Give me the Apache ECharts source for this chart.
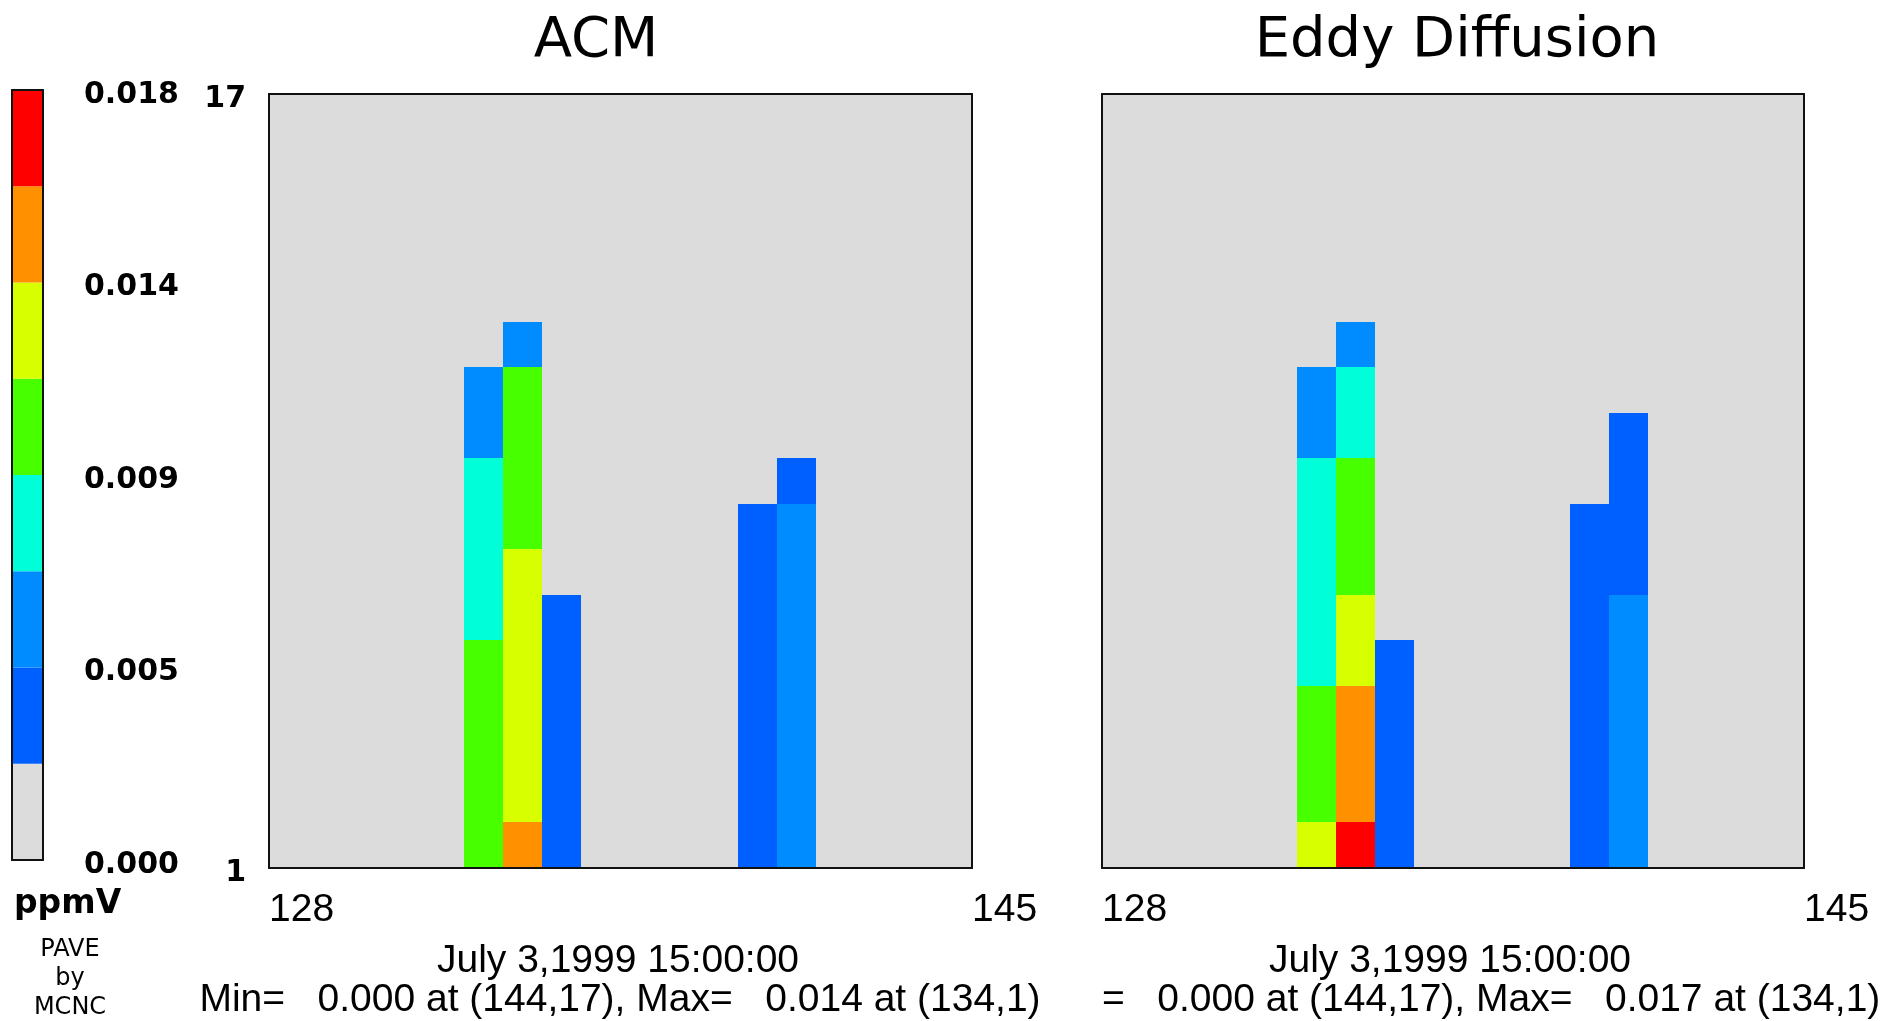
<!DOCTYPE html>
<html><head><meta charset="utf-8">
<script src="https://cdn.jsdelivr.net/npm/echarts@6/dist/echarts.min.js"></script>
<style>html,body{margin:0;padding:0;background:#fff;}#c{width:1881px;height:1021px;}</style>
</head><body><div id="c"></div>
<script>
// ---- data ----
const xCategories = ['128','129','130','131','132','133','134','135','136','137','138','139','140','141','142','143','144','145'];
const yCategories = ['1','2','3','4','5','6','7','8','9','10','11','12','13','14','15','16','17'];
const xEdgeLabels = ['128', '145'];
const yEdgeLabels = ['1', '17'];
const binEdges = [0, 0.00225, 0.0045, 0.00675, 0.009, 0.01125, 0.0135, 0.01575, 0.018];
const binColors = ['#dcdcdc', '#0060ff', '#008cff', '#00ffd8', '#48ff00', '#d8ff00', '#ff9000', '#ff0000'];
const legendTickLabels = ['0.000', '0.005', '0.009', '0.014', '0.018'];
const panelTitles = ['ACM', 'Eddy Diffusion'];
const dateLabel = 'July 3,1999 15:00:00';
const acmStats = 'Min=   0.000 at (144,17), Max=   0.014 at (134,1)';
const eddyStats = '=   0.000 at (144,17), Max=   0.017 at (134,1)';

// [x, y, ppmV] for cells above the lowest bin
const acmCells = [
  [133,1,0.0108],[133,2,0.0105],[133,3,0.0101],[133,4,0.0096],[133,5,0.0092],
  [133,6,0.0088],[133,7,0.0083],[133,8,0.0078],[133,9,0.0071],[133,10,0.0062],[133,11,0.0049],
  [134,1,0.0140],[134,2,0.0133],[134,3,0.0130],[134,4,0.0126],[134,5,0.0122],[134,6,0.0118],[134,7,0.0114],
  [134,8,0.0110],[134,9,0.0104],[134,10,0.0098],[134,11,0.0092],[134,12,0.0058],
  [135,1,0.0043],[135,2,0.0041],[135,3,0.0038],[135,4,0.0034],[135,5,0.0030],[135,6,0.0025],
  [140,1,0.0044],[140,2,0.0043],[140,3,0.0041],[140,4,0.0039],[140,5,0.0036],[140,6,0.0033],[140,7,0.0030],[140,8,0.0026],
  [141,1,0.0060],[141,2,0.0058],[141,3,0.0056],[141,4,0.0054],[141,5,0.0052],[141,6,0.0050],[141,7,0.0048],[141,8,0.0046],[141,9,0.0032]
];
const eddyCells = [
  [133,1,0.0120],[133,2,0.0110],[133,3,0.0102],[133,4,0.0094],
  [133,5,0.0089],[133,6,0.0085],[133,7,0.0080],[133,8,0.0076],[133,9,0.0070],[133,10,0.0062],[133,11,0.0050],
  [134,1,0.0170],[134,2,0.0155],[134,3,0.0147],[134,4,0.0139],[134,5,0.0130],[134,6,0.0119],
  [134,7,0.0110],[134,8,0.0102],[134,9,0.0093],[134,10,0.0086],[134,11,0.0072],[134,12,0.0055],
  [135,1,0.0042],[135,2,0.0039],[135,3,0.0035],[135,4,0.0030],[135,5,0.0025],
  [140,1,0.0044],[140,2,0.0043],[140,3,0.0041],[140,4,0.0039],[140,5,0.0036],[140,6,0.0033],[140,7,0.0030],[140,8,0.0026],
  [141,1,0.0058],[141,2,0.0055],[141,3,0.0052],[141,4,0.0050],[141,5,0.0048],[141,6,0.0046],
  [141,7,0.0042],[141,8,0.0038],[141,9,0.0032],[141,10,0.0026]
];

// ---- chart ----
const chart = echarts.init(document.getElementById('c'), null, {renderer: 'canvas'});
const BORDER = {show: true, onZero: false, lineStyle: {color: '#111', width: 2}};
const NOAX = {axisTick: {show: false}, splitLine: {show: false}};
function toCells(list) {
  return list.map(d => [xCategories.indexOf(String(d[0])), yCategories.indexOf(String(d[1])), d[2]]);
}
const boldLabel = {fontFamily: 'DejaVu Sans', fontWeight: 'bold', fontSize: 30, color: '#000', verticalAlign: 'top', lineHeight: 10};
const plainLabel = {fontFamily: 'Liberation Sans', fontSize: 39, color: '#000'};

const grids = [
  {left: 12, top: 90, width: 31, height: 770},
  {left: 269, top: 94, width: 703, height: 774, show: true, backgroundColor: binColors[0], borderWidth: 0},
  {left: 1102, top: 94, width: 702, height: 774, show: true, backgroundColor: binColors[0], borderWidth: 0}
].map(g => Object.assign({containLabel: false, outerBoundsMode: 'none'}, g));

const xAxis = [
  Object.assign({type: 'category', gridIndex: 0, data: ['ppmV'], position: 'bottom', axisLine: BORDER, axisLabel: {show: false}, z: 10}, NOAX),
  Object.assign({type: 'category', gridIndex: 0, data: ['ppmV'], position: 'top', axisLine: BORDER, axisLabel: {show: false}, z: 10}, NOAX),
  Object.assign({type: 'category', gridIndex: 1, data: xCategories, position: 'top', axisLine: BORDER, axisLabel: {show: false}, z: 10}, NOAX),
  Object.assign({type: 'value', gridIndex: 1, min: 0, max: 1, interval: 1, position: 'bottom', axisLine: BORDER, z: 10,
    axisLabel: Object.assign({show: true, showMinLabel: true, showMaxLabel: true, align: 'left', margin: 23,
      formatter: v => xEdgeLabels[v]}, plainLabel)}, NOAX),
  Object.assign({type: 'category', gridIndex: 2, data: xCategories, position: 'top', axisLine: BORDER, axisLabel: {show: false}, z: 10}, NOAX),
  Object.assign({type: 'value', gridIndex: 2, min: 0, max: 1, interval: 1, position: 'bottom', axisLine: BORDER, z: 10,
    axisLabel: Object.assign({show: true, showMinLabel: true, showMaxLabel: true, align: 'left', margin: 23,
      formatter: v => xEdgeLabels[v]}, plainLabel)}, NOAX)
];
const yAxis = [
  Object.assign({type: 'value', gridIndex: 0, min: 0, max: 0.018, interval: 0.0045, position: 'right', axisLine: BORDER, z: 10,
    axisLabel: Object.assign({show: true, showMinLabel: true, showMaxLabel: true, margin: 41,
      formatter: v => legendTickLabels[Math.round(v / 0.0045)]}, boldLabel)}, NOAX),
  Object.assign({type: 'value', gridIndex: 0, min: 0, max: 0.018, interval: 0.0045, position: 'left', axisLine: BORDER, axisLabel: {show: false}, z: 10}, NOAX),
  Object.assign({type: 'category', gridIndex: 1, data: yCategories, position: 'right', axisLine: BORDER, axisLabel: {show: false}, z: 10}, NOAX),
  Object.assign({type: 'value', gridIndex: 1, min: 0, max: 1, interval: 1, position: 'left', axisLine: BORDER, z: 10,
    axisLabel: Object.assign({show: true, showMinLabel: true, showMaxLabel: true, margin: 23,
      formatter: v => yEdgeLabels[v]}, boldLabel)}, NOAX),
  Object.assign({type: 'category', gridIndex: 2, data: yCategories, position: 'right', axisLine: BORDER, axisLabel: {show: false}, z: 10}, NOAX),
  Object.assign({type: 'value', gridIndex: 2, min: 0, max: 1, interval: 1, position: 'left', axisLine: BORDER, axisLabel: {show: false}, z: 10}, NOAX)
];

function renderCell(params, api) {
  const c = api.coord([api.value(0), api.value(1)]);
  const s = api.size([1, 1]);
  const x0 = Math.round(c[0] - s[0] / 2), x1 = Math.round(c[0] + s[0] / 2);
  const y0 = Math.round(c[1] - s[1] / 2), y1 = Math.round(c[1] + s[1] / 2);
  return {type: 'rect', shape: {x: x0, y: y0, width: x1 - x0, height: y1 - y0},
    style: {fill: api.visual('color')}};
}

const series = [];
for (let i = 0; i < binColors.length; i++) {
  series.push({type: 'bar', xAxisIndex: 0, yAxisIndex: 0, stack: 'legend', barWidth: '100%', silent: true,
    data: [binEdges[i + 1] - binEdges[i]], itemStyle: {color: binColors[i]}});
}
series.push({type: 'custom', name: 'ACM', xAxisIndex: 2, yAxisIndex: 2, data: toCells(acmCells), silent: true,
  renderItem: renderCell, encode: {x: 0, y: 1}});
series.push({type: 'custom', name: 'Eddy', xAxisIndex: 4, yAxisIndex: 4, data: toCells(eddyCells), silent: true,
  renderItem: renderCell, encode: {x: 0, y: 1}});

const pieces = binColors.map((c, i) => (i === binColors.length - 1)
  ? {gte: binEdges[i], lte: binEdges[i + 1], color: c}
  : {gte: binEdges[i], lt: binEdges[i + 1], color: c});

function txt(text, x, y, font, align) {
  return {type: 'text', x: x, y: y, silent: true, z: 20,
    style: Object.assign({text: text, align: align || 'center', verticalAlign: 'middle', fill: '#000'}, font)};
}
const titleFont = {fontFamily: 'DejaVu Sans', fontSize: 56};
const botFont = {fontFamily: 'Liberation Sans', fontSize: 39};
const smallFont = {fontFamily: 'DejaVu Sans', fontSize: 24};

chart.setOption({
  animation: false,
  backgroundColor: '#ffffff',
  grid: grids,
  xAxis: xAxis,
  yAxis: yAxis,
  visualMap: {type: 'piecewise', show: false, seriesIndex: [8, 9], dimension: 2, pieces: pieces},
  series: series,
  graphic: [
    txt(panelTitles[0], 596, 41, titleFont),
    txt(panelTitles[1], 1457, 41, titleFont),
    txt('ppmV', 14, 904, {fontFamily: 'DejaVu Sans', fontWeight: 'bold', fontSize: 33}, 'left'),
    txt('PAVE', 70, 950, smallFont),
    txt('by', 70, 979, smallFont),
    txt('MCNC', 70, 1008, smallFont),
    txt(dateLabel, 618, 961, botFont),
    txt(acmStats, 620, 1000, botFont),
    txt(dateLabel, 1450, 961, botFont),
    txt(eddyStats, 1102, 1000, botFont, 'left')
  ]
});
</script></body></html>
